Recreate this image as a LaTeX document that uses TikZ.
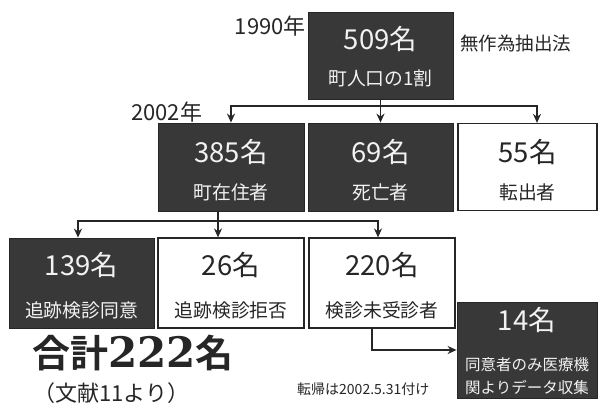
\documentclass[tikz,border=0pt]{standalone}
\usepackage{fontspec}
\usetikzlibrary{arrows.meta}
\newfontfamily\jp{Noto Sans CJK JP}
\newfontfamily\jpbold{Noto Sans CJK JP}[UprightFont=*, BoldFont=* Bold]
\newfontfamily\serifdig{DejaVu Serif}
\definecolor{darkfill}{HTML}{383838}
\definecolor{ink}{HTML}{262626}
\definecolor{lighttext}{HTML}{F2F2F2}
\tikzset{
  darkbox/.style={draw=ink, line width=0.8pt, fill=darkfill, inner sep=0pt, minimum width=#1},
  whitebox/.style={draw=ink, line width=1.2pt, fill=white, inner sep=0pt, minimum width=#1},
  numtxt/.style={font=\jp\fontsize{27.5}{29}\selectfont, inner sep=0pt},
  labtxt/.style={font=\jp\fontsize{18.8}{20}\selectfont, inner sep=0pt},
  smalltxt/.style={font=\jp\fontsize{15.5}{17}\selectfont, inner sep=0pt},
  plain/.style={font=\jp\fontsize{22}{24}\selectfont, text=ink, inner sep=0pt},
  conn/.style={draw=ink, line width=1.8pt},
  arr/.style={conn, -{Stealth[length=9pt,width=8pt]}}
}
\begin{document}
\begin{tikzpicture}[x=1pt,y=-1pt]
\useasboundingbox (0,0) rectangle (598,407);
% top box
\node[darkbox=145pt, minimum height=87pt] (top) at (380.5,55.5) {};
\node[numtxt, text=lighttext] (t1) at (380.5,39) {509名};
\node[labtxt, text=lighttext] (t2) at (380.5,78) {町人口の1割};
\node[plain, anchor=east] (y1990) at (306,26) {1990年};
\node[font=\jp\fontsize{18.5}{20}\selectfont, text=ink, inner sep=0pt, anchor=west] (method) at (460,43) {無作為抽出法};
% middle row
\node[darkbox=146pt, minimum height=88pt] (m1) at (231,167) {};
\node[darkbox=145pt, minimum height=88pt] (m2) at (380.5,167) {};
\node[whitebox=139pt, minimum height=87pt] (m3) at (527.5,167) {};
\node[numtxt, text=lighttext] (m1a) at (231,152) {385名};
\node[labtxt, text=lighttext] (m1b) at (231,192) {町在住者};
\node[numtxt, text=lighttext] (m2a) at (380.5,152) {69名};
\node[labtxt, text=lighttext] (m2b) at (380.5,192) {死亡者};
\node[numtxt, text=ink] (m3a) at (527.5,152) {55名};
\node[labtxt, text=ink] (m3b) at (527.5,192) {転出者};
\node[plain, anchor=west] (y2002) at (131,112) {2002年};
% bottom row
\node[darkbox=145pt, minimum height=90pt] (b1) at (81.5,283) {};
\node[whitebox=146pt, minimum height=90pt] (b2) at (231,283) {};
\node[whitebox=146pt, minimum height=90pt] (b3) at (382,283) {};
\node[numtxt, text=lighttext] (b1a) at (81.5,265) {139名};
\node[labtxt, text=lighttext] (b1b) at (81.5,310) {追跡検診同意};
\node[numtxt, text=ink] (b2a) at (231,265) {26名};
\node[labtxt, text=ink] (b2b) at (231,310) {追跡検診拒否};
\node[numtxt, text=ink] (b3a) at (382,265) {220名};
\node[labtxt, text=ink] (b3b) at (382,310) {検診未受診者};
% 14 box
\node[darkbox=140pt, minimum height=96pt] (b4) at (527,350) {};
\node[numtxt, text=lighttext] (b4a) at (527,320) {14名};
\node[smalltxt, text=lighttext] (b4b) at (527,365) {同意者のみ医療機};
\node[smalltxt, text=lighttext] (b4c) at (527,388) {関よりデータ収集};
% connectors
\coordinate (j1) at (380.5,106);
\draw[conn] (top.south) -- (j1);
\draw[arr] (j1) -| (m1.north);
\draw[arr] (j1) -- (m2.north);
\draw[arr] (j1) -| ([xshift=9.5pt]m3.north);
\coordinate (j2) at (218,221);
\draw[conn] ([xshift=-13pt]m1.south) -- (j2);
\draw[arr] (j2) -| ([xshift=-3.5pt]b1.north);
\draw[arr] (j2) -- ([xshift=-13pt]b2.north);
\draw[arr] (j2) -| ([xshift=-4pt]b3.north);
\draw[arr] ([xshift=-10pt]b3.south) |- (b4.west);
% bottom texts
\node[inner sep=0pt, anchor=west, text=ink] (total) at (32,353)
  {\jpbold\bfseries\fontsize{38}{40}\selectfont 合計{\serifdig\bfseries\fontsize{42}{44}\selectfont 222}名};
\node[inner sep=0pt, anchor=west, text=ink, font=\jp\fontsize{22}{24}\selectfont] (ref) at (33,393) {（文献11より）};
\node[inner sep=0pt, anchor=west, text=ink, font=\jp\fontsize{14}{16}\selectfont] (note) at (297,389) {転帰は2002.5.31付け};
\end{tikzpicture}
\end{document}
